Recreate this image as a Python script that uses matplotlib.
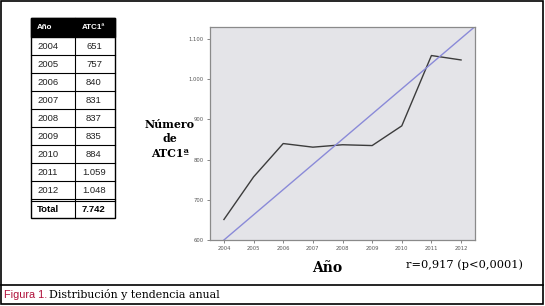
import matplotlib
matplotlib.use("Agg")
import matplotlib.pyplot as plt
from matplotlib.patches import Rectangle
from matplotlib.lines import Line2D

years = [2004, 2005, 2006, 2007, 2008, 2009, 2010, 2011, 2012]
atc = [651, 757, 840, 831, 837, 835, 884, 1059, 1048]
atc_labels = ["651", "757", "840", "831", "837", "835", "884", "1.059", "1.048"]
total_label = "7.742"
trend_x = [2004, 2012.5]
trend_y = [600, 1133]
yticks = [600, 700, 800, 900, 1000, 1100]
ytick_labels = ["600", "700", "800", "900", "1.000", "1.100"]

W, H = 545, 306
fig = plt.figure(figsize=(W / 100, H / 100), dpi=100)
fig.patch.set_facecolor("white")

def fx(px):
    return px / W

def fy(py):
    return 1 - py / H

# outer frame and caption separator
fig.add_artist(Rectangle((fx(1), fy(304)), fx(542), 303 / H, transform=fig.transFigure,
                         fill=False, edgecolor="black", linewidth=1.2))
fig.add_artist(Line2D([fx(1), fx(543)], [fy(285), fy(285)], transform=fig.transFigure,
                      color="black", linewidth=1.2))

serif = ["DejaVu Serif"]
sans = ["Liberation Sans", "DejaVu Sans"]

# caption
fig.text(fx(4), fy(295), "Figura 1.", color="#b0103a", fontsize=7.8,
         family=sans, va="center", ha="left")
fig.text(fx(49), fy(295), "Distribución y tendencia anual", color="black", fontsize=7.9,
         family=serif, va="center", ha="left")

# table
tab = fig.add_axes([0, 0, 1, 1])
tab.set_xlim(0, W)
tab.set_ylim(H, 0)
tab.axis("off")
tx0, tx1, tmid = 31, 115, 75
ty0, yh = 18, 37
rh = 18
tab.add_patch(Rectangle((tx0, ty0), tx1 - tx0, yh - ty0, facecolor="black", edgecolor="black"))
tab.text(37, (ty0 + yh) / 2, "Año", color="white", fontsize=5.8, fontweight="bold",
         family=sans, va="center", ha="left")
tab.text(93, (ty0 + yh) / 2, "ATC1ª", color="white", fontsize=5.8, fontweight="bold",
         family=sans, va="center", ha="center")
for i, (yr, lab) in enumerate(zip(years, atc_labels)):
    top = yh + i * rh
    tab.text(37, top + rh / 2 + 0.5, str(yr), fontsize=6.8, family=sans, va="center",
             ha="left", color="#222222")
    tab.text(94, top + rh / 2 + 0.5, lab, fontsize=6.8, family=sans, va="center",
             ha="center", color="#222222")
    tab.plot([tx0, tx1], [top + rh, top + rh], color="black", linewidth=0.8)
tot_top = yh + len(years) * rh
tab.plot([tx0, tx1], [tot_top + 1.5, tot_top + 1.5], color="black", linewidth=0.8)
tab.text(37, tot_top + 10, "Total", fontsize=6.8, fontweight="bold", family=sans,
         va="center", ha="left")
tab.text(94, tot_top + 10, total_label, fontsize=6.8, fontweight="bold", family=sans,
         va="center", ha="center")
tbot = tot_top + 19
tab.add_patch(Rectangle((tx0, ty0), tx1 - tx0, tbot - ty0, fill=False, edgecolor="black",
                        linewidth=1.0))
tab.plot([tmid, tmid], [ty0, tbot], color="black", linewidth=0.8)

# chart
ax = fig.add_axes([fx(210), fy(240), fx(265), 213 / H])
ax.set_facecolor("#e4e4e8")
ax.plot(years, atc, color="#3c3c3c", linewidth=1.0)
ax.plot(trend_x, trend_y, color="#8a8ad8", linewidth=1.0)
ax.set_xlim(2003.53, 2012.47)
ax.set_ylim(600, 1130)
ax.set_xticks(years)
ax.set_xticklabels([str(y) for y in years], fontsize=3.8, color="#555555")
ax.set_yticks(yticks)
ax.set_yticklabels(ytick_labels, fontsize=3.8, color="#555555")
ax.tick_params(length=2.5, width=0.5, color="#555555", pad=2)
for s in ax.spines.values():
    s.set_color("#8a8a8a")
    s.set_linewidth(0.9)

fig.text(fx(170), fy(139), "Número\nde\nATC1ª", fontsize=7.9, fontweight="bold",
         family=serif, ha="center", va="center", linespacing=1.35)
fig.text(fx(327), fy(268), "Año", fontsize=10, fontweight="bold", family=serif,
         ha="center", va="center")
fig.text(fx(464), fy(265), "r=0,917 (p<0,0001)", fontsize=8.2, family=serif,
         ha="center", va="center")

fig.savefig("out.png", dpi=100)
